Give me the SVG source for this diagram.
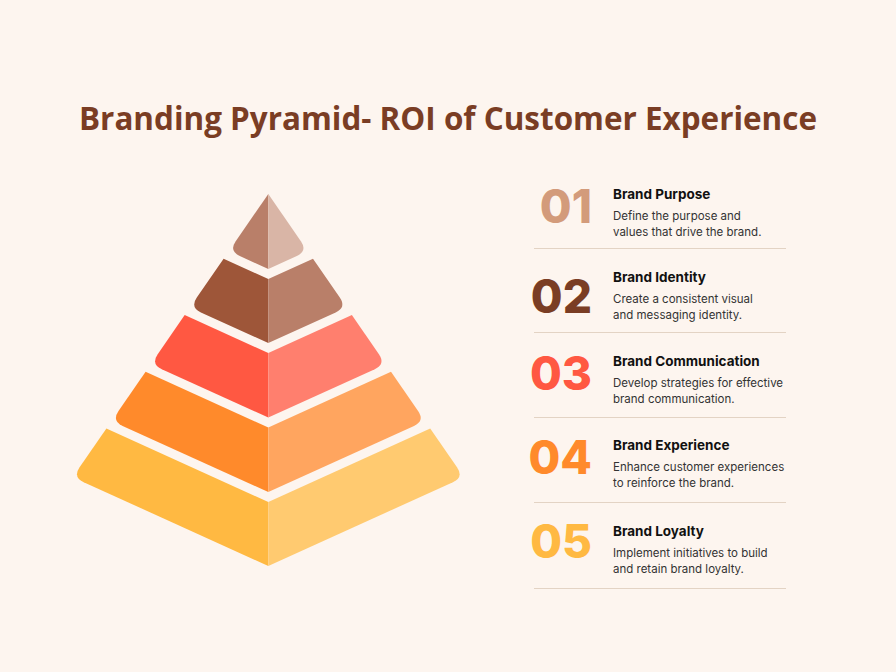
<svg xmlns="http://www.w3.org/2000/svg" width="896" height="672" viewBox="0 0 896 672">
<style>
.title{font-family:"Open Sans","Liberation Sans",sans-serif;font-weight:700;font-size:32px;fill:#7A3D24}
.num{font-family:Inter,"Open Sans",sans-serif;font-weight:800;font-size:46px;text-anchor:end}
.head{font-family:Inter,"Liberation Sans",sans-serif;font-weight:700;font-size:13.5px;fill:#111}
.desc{font-family:Inter,"Liberation Sans",sans-serif;font-weight:400;font-size:11.5px;fill:#333}
.sep{stroke:#E3D3C4;stroke-width:1}
</style>
<rect width="896" height="672" fill="#FDF5EF"/>
<text class="title" x="448" y="130" text-anchor="middle" textLength="738" lengthAdjust="spacingAndGlyphs">Branding Pyramid- ROI of Customer Experience</text>

<g id="pyramid">
<g id="tier1">
<path d="M268.3,194 L235.7,241.2 Q228.9,251.1 239.8,256.1 L268.3,269 Z" fill="#B97F69"/>
<path d="M268.3,194 L300.9,241.2 Q307.7,251.1 296.8,256.1 L268.3,269 Z" fill="#D9B5A6"/>
</g>
<g id="tier2">
<path d="M223.6,258.7 L268.3,279 L268.3,343 L200.9,312.4 Q190,307.5 196.8,297.6 Z" fill="#9E5639"/>
<path d="M313,258.7 L268.3,279 L268.3,343 L335.7,312.4 Q346.6,307.5 339.8,297.6 Z" fill="#B97F69"/>
</g>
<g id="tier3">
<path d="M184.7,315.1 L268.3,353 L268.3,417.5 L161.8,369.2 Q150.9,364.2 157.7,354.3 Z" fill="#FF5842"/>
<path d="M351.9,315.1 L268.3,353 L268.3,417.5 L374.8,369.2 Q385.7,364.2 378.9,354.3 Z" fill="#FF7F6E"/>
</g>
<g id="tier4">
<path d="M145.6,371.8 L268.3,427.5 L268.3,492 L122.6,425.9 Q111.7,420.9 118.5,411 Z" fill="#FF8A2B"/>
<path d="M391,371.8 L268.3,427.5 L268.3,492 L414,425.9 Q424.9,420.9 418.1,411 Z" fill="#FFA55F"/>
</g>
<g id="tier5">
<path d="M106.4,428.5 L268.3,502 L268.3,566 L83.7,482.2 Q72.8,477.2 79.6,467.3 Z" fill="#FFB942"/>
<path d="M430.2,428.5 L268.3,502 L268.3,566 L452.9,482.2 Q463.8,477.2 457,467.3 Z" fill="#FFCA70"/>
</g>
</g>

<g id="item1">
<text class="num" x="592" y="223" fill="#D39B7B">01</text>
<text class="head" x="613" y="199">Brand Purpose</text>
<text class="desc" x="613" y="220">Define the purpose and</text>
<text class="desc" x="613" y="236">values that drive the brand.</text>
<line class="sep" x1="534" y1="248.5" x2="786" y2="248.5"/>
</g>
<g id="item2">
<text class="num" x="592" y="313" fill="#7A3D24">02</text>
<text class="head" x="613" y="282">Brand Identity</text>
<text class="desc" x="613" y="303">Create a consistent visual</text>
<text class="desc" x="613" y="319">and messaging identity.</text>
<line class="sep" x1="534" y1="332.5" x2="786" y2="332.5"/>
</g>
<g id="item3">
<text class="num" x="592" y="390" fill="#FF5842">03</text>
<text class="head" x="613" y="366">Brand Communication</text>
<text class="desc" x="613" y="387">Develop strategies for effective</text>
<text class="desc" x="613" y="403">brand communication.</text>
<line class="sep" x1="534" y1="417.5" x2="786" y2="417.5"/>
</g>
<g id="item4">
<text class="num" x="592" y="474" fill="#FF8A2B">04</text>
<text class="head" x="613" y="450">Brand Experience</text>
<text class="desc" x="613" y="471">Enhance customer experiences</text>
<text class="desc" x="613" y="487">to reinforce the brand.</text>
<line class="sep" x1="534" y1="502.5" x2="786" y2="502.5"/>
</g>
<g id="item5">
<text class="num" x="592" y="558" fill="#FFB942">05</text>
<text class="head" x="613" y="536">Brand Loyalty</text>
<text class="desc" x="613" y="557">Implement initiatives to build</text>
<text class="desc" x="613" y="573">and retain brand loyalty.</text>
<line class="sep" x1="534" y1="588.5" x2="786" y2="588.5"/>
</g>
</svg>
